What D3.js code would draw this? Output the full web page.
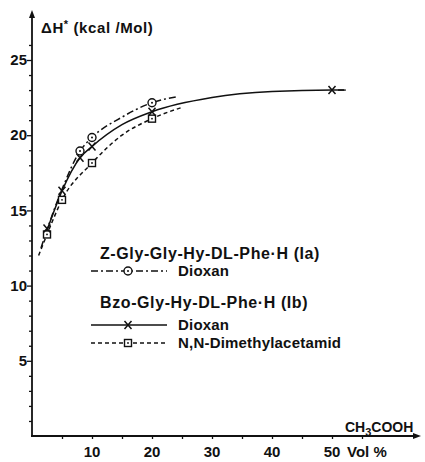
<!DOCTYPE html>
<html>
<head>
<meta charset="utf-8">
<script src="https://cdn.jsdelivr.net/npm/d3@7"></script>
<style>
  body { margin: 0; background: #fff; }
  text { font-family: "Liberation Sans", Arial, sans-serif; fill: #111; font-weight: bold; }
</style>
</head>
<body>
<div id="chart"></div>
<script>
// data
var yTicks = [5, 10, 15, 20, 25];
var xTicks = [10, 20, 30, 40, 50];

// fitted curves (as drawn)
var curveIaDioxan = [[1.5,12.5],[2.5,13.7],[5,16.4],[8,18.95],[10,19.85],[15,21.2],[20,22.16],[24,22.55]];
var curveIbDioxan = [[2,13.2],[2.5,13.7],[5,16.3],[8,18.5],[10,19.25],[15,20.7],[20,21.56],[30,22.5],[40,22.9],[50,23.0],[52,23.0]];
var curveIbDMA    = [[1.1,12.0],[2.5,13.4],[5,15.7],[10,18.15],[15,20.0],[20,21.1],[25,21.85]];

// measured points
var ptsIaDioxan = [[8,18.95],[10,19.85],[20,22.16]];
var ptsIbDioxan = [[2.5,13.8],[5,16.3],[8,18.5],[10,19.25],[20,21.56],[50,23.0]];
var ptsIbDMA    = [[2.5,13.4],[5,15.7],[10,18.15],[20,21.1]];

var svg = d3.select("#chart").append("svg")
    .attr("width", 425)
    .attr("height", 462);

var x = d3.scaleLinear().domain([0, 50]).range([32, 332]);
var y = d3.scaleLinear().domain([0, 25]).range([436, 60]);

// y axis
var yAxis = svg.append("g").attr("transform", "translate(" + x(0) + ",0)");
yAxis.call(d3.axisLeft(y).tickValues(d3.range(1, 27)).tickSize(3).tickFormat(""));
yAxis.select(".domain").remove();
yAxis.selectAll("line").attr("stroke", "#111").attr("stroke-width", 1.3);
yAxis.selectAll(".tick").filter(function(d) { return d % 5 === 0; })
    .select("line").attr("x2", -5);
yAxis.selectAll(".lab").data(yTicks).enter().append("text")
    .attr("x", -5).attr("y", function(d) { return y(d); })
    .attr("dy", "0.35em")
    .attr("text-anchor", "end")
    .style("font-size", "15px")
    .text(function(d) { return d; });

// x axis
var xAxis = svg.append("g").attr("transform", "translate(0," + y(0) + ")");
xAxis.call(d3.axisBottom(x).tickValues(d3.range(5, 60, 5)).tickSize(3).tickFormat(""));
xAxis.select(".domain").remove();
xAxis.selectAll("line").attr("stroke", "#111").attr("stroke-width", 1.3);
xAxis.selectAll(".lab").data(xTicks).enter().append("text")
    .attr("x", function(d) { return x(d); }).attr("y", 21)
    .attr("text-anchor", "middle")
    .style("font-size", "15px")
    .text(function(d) { return d; });
xAxis.append("text").attr("x", 347).attr("y", 21)
    .attr("text-anchor", "start").style("font-size", "15px").text("Vol %");

// axis lines with arrows
svg.append("line").attr("x1", x(0)).attr("y1", y(0) + 1).attr("x2", x(0)).attr("y2", 14)
    .attr("stroke", "#111").attr("stroke-width", 1.8);
svg.append("path").attr("d", "M" + x(0) + ",10 l-3,8 l6,0 z").attr("fill", "#111");
svg.append("line").attr("x1", x(0) - 1).attr("y1", y(0)).attr("x2", 416).attr("y2", y(0))
    .attr("stroke", "#111").attr("stroke-width", 1.8);
svg.append("path").attr("d", "M421," + y(0) + " l-8,-3 l0,6 z").attr("fill", "#111");

// axis titles
var yt = svg.append("text").attr("x", 41).attr("y", 33)
    .style("font-size", "15px").style("letter-spacing", "0.6px");
yt.append("tspan").text("\u0394H");
yt.append("tspan").attr("dy", -5).style("font-size", "11px").text("*");
yt.append("tspan").attr("dy", 5).text(" (kcal /Mol)");

var xt = svg.append("text").attr("x", 345).attr("y", 432).style("font-size", "14px");
xt.append("tspan").text("CH");
xt.append("tspan").attr("dy", 4).style("font-size", "11px").text("3");
xt.append("tspan").attr("dy", -4).text("COOH");

// curves
var line = d3.line()
    .x(function(d) { return x(d[0]); })
    .y(function(d) { return y(d[1]); })
    .curve(d3.curveMonotoneX);

var styles = {
  dashdot: "7,3,2,3",
  solid: null,
  dashed: "4,3"
};

function drawCurve(data, dash) {
  svg.append("path").datum(data)
      .attr("d", line)
      .attr("fill", "none")
      .attr("stroke", "#111")
      .attr("stroke-width", 1.5)
      .attr("stroke-dasharray", dash);
}
drawCurve(curveIaDioxan, styles.dashdot);
drawCurve(curveIbDioxan, styles.solid);
drawCurve(curveIbDMA, styles.dashed);

// markers
function circleMark(g, cx, cy) {
  g.append("circle").attr("cx", cx).attr("cy", cy).attr("r", 4)
      .attr("fill", "#fff").attr("stroke", "#111").attr("stroke-width", 1.4);
  g.append("circle").attr("cx", cx).attr("cy", cy).attr("r", 1).attr("fill", "#111");
}
function squareMark(g, cx, cy) {
  g.append("rect").attr("x", cx - 3.5).attr("y", cy - 3.5).attr("width", 7).attr("height", 7)
      .attr("fill", "#fff").attr("stroke", "#111").attr("stroke-width", 1.4);
  g.append("circle").attr("cx", cx).attr("cy", cy).attr("r", 0.9).attr("fill", "#111");
}
function crossMark(g, cx, cy) {
  g.append("path").attr("d", "M" + (cx - 3.5) + "," + (cy - 4) + "L" + (cx + 3.5) + "," + (cy + 4) +
      "M" + (cx + 3.5) + "," + (cy - 4) + "L" + (cx - 3.5) + "," + (cy + 4))
      .attr("stroke", "#111").attr("stroke-width", 1.5);
}

var marks = svg.append("g");
ptsIbDMA.forEach(function(d) { squareMark(marks, x(d[0]), y(d[1])); });
ptsIbDioxan.forEach(function(d) { crossMark(marks, x(d[0]), y(d[1])); });
ptsIaDioxan.forEach(function(d) { circleMark(marks, x(d[0]), y(d[1])); });
// little tail after the last cross
svg.append("line").attr("x1", x(51)).attr("x2", x(52.3)).attr("y1", y(23.0)).attr("y2", y(23.0))
    .attr("stroke", "#111").attr("stroke-width", 1.4);

// legend
var leg = svg.append("g");
leg.append("text").attr("x", 100).attr("y", 259)
    .style("font-size", "16px").style("letter-spacing", "0.6px")
    .text("Z-Gly-Gly-Hy-DL-Phe\u00b7H  (Ia)");
leg.append("text").attr("x", 100).attr("y", 308)
    .style("font-size", "16px").style("letter-spacing", "0.6px")
    .text("Bzo-Gly-Hy-DL-Phe\u00b7H  (Ib)");

var legRows = [
  {y: 271, dash: styles.dashdot, mark: circleMark, label: "Dioxan"},
  {y: 325, dash: styles.solid, mark: crossMark, label: "Dioxan"},
  {y: 343, dash: styles.dashed, mark: squareMark, label: "N,N-Dimethylacetamid"}
];
legRows.forEach(function(r) {
  leg.append("line").attr("x1", 91).attr("x2", 167).attr("y1", r.y).attr("y2", r.y)
      .attr("stroke", "#111").attr("stroke-width", 1.3).attr("stroke-dasharray", r.dash);
  r.mark(leg, 128, r.y);
  leg.append("text").attr("x", 178).attr("y", r.y).attr("dy", "0.35em")
      .style("font-size", "15px").style("letter-spacing", "0.2px").text(r.label);
});
</script>
</body>
</html>
